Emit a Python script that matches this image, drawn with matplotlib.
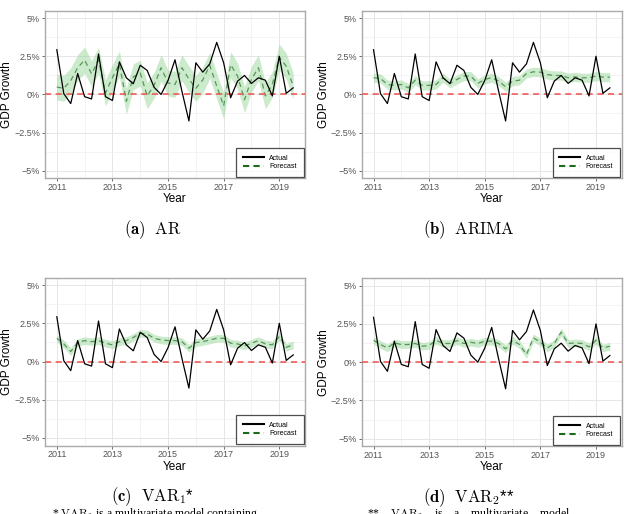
import matplotlib
matplotlib.use("Agg")
import matplotlib.pyplot as plt
from matplotlib.ticker import FuncFormatter, MultipleLocator
from matplotlib.lines import Line2D
import numpy as np

plt.rcParams['mathtext.fontset'] = 'cm'
plt.rcParams['font.family'] = ['Liberation Sans', 'DejaVu Sans']

# quarterly GDP growth, 2011Q1 .. 2019Q3
quarters = [2011 + 0.25 * i for i in range(35)]
actual = [2.93, 0.05, -0.60, 1.37, -0.15, -0.30, 2.65, -0.15, -0.40, 2.13,
          1.09, 0.70, 1.91, 1.57, 0.46, 0.00, 0.91, 2.27, 0.20, -1.74,
          2.07, 1.46, 2.00, 3.41, 2.07, -0.22, 0.87, 1.24, 0.72, 1.09,
          0.93, -0.10, 2.50, 0.07, 0.43]

fc_ar = [0.48, 0.40, 0.90, 1.75, 2.25, 1.35, 2.25, 0.10, 1.10, 2.00,
         -0.45, 1.15, 1.40, -0.10, 0.60, 1.75, 0.75, 0.65, 1.75, 1.00,
         0.40, 0.95, 1.90, 0.55, -0.75, 1.95, 1.20, -0.35, 1.00, 1.75,
         -0.10, 0.65, 2.45, 1.85, 0.55]
fc_arima = [1.09, 1.05, 0.65, 0.59, 0.65, 0.43, 0.93, 0.59, 0.59, 0.65,
            1.09, 0.72, 0.98, 1.20, 1.20, 0.72, 0.98, 1.10, 0.87, 0.50,
            0.87, 0.93, 1.37, 1.48, 1.46, 1.30, 1.24, 1.24, 1.09, 1.15,
            1.09, 1.09, 1.20, 1.13, 1.13]
fc_var1 = [1.52, 1.15, 0.65, 1.24, 1.37, 1.30, 1.37, 1.20, 1.09, 1.30,
           1.37, 1.57, 1.85, 1.80, 1.52, 1.41, 1.37, 1.37, 1.30, 0.87,
           1.24, 1.30, 1.41, 1.52, 1.52, 1.20, 1.15, 1.02, 1.20, 1.37,
           1.15, 1.09, 1.63, 0.93, 1.09]
fc_var2 = [1.43, 1.15, 0.93, 1.26, 1.15, 1.15, 1.22, 1.04, 1.09, 1.43,
           1.22, 1.22, 1.41, 1.22, 1.30, 1.22, 1.37, 1.37, 1.22, 0.87,
           1.43, 1.15, 0.50, 1.59, 1.30, 0.93, 1.22, 1.96, 1.22, 1.26,
           1.22, 1.00, 1.43, 0.93, 1.04]
# half width of the shaded interval for each model
band = [0.85, 0.30, 0.25, 0.25]

forecasts = [fc_ar, fc_arima, fc_var1, fc_var2]
captions = [r'$\mathbf{(a)}\ \ \mathrm{AR}$', r'$\mathbf{(b)}\ \ \mathrm{ARIMA}$',
            r'$\mathbf{(c)}\ \ \mathrm{VAR}_1$*', r'$\mathbf{(d)}\ \ \mathrm{VAR}_2$**']

W, H = 627, 514
fig = plt.figure(figsize=(W / 100, H / 100), dpi=100)

# panel boxes in pixels: left, top, right, bottom
boxes = [(45, 10.5, 305, 178.3), (361.7, 10.5, 621.7, 178.3),
         (45, 277.5, 305, 445.5), (361.7, 278, 621.7, 446.3)]
caption_x = [153, 469, 153, 469]

for k in range(4):
    l, t, r, b = boxes[k]
    ax = fig.add_axes([l / W, 1 - b / H, (r - l) / W, (b - t) / H])
    x = np.array(quarters)
    f = np.array(forecasts[k])
    ax.fill_between(x, f - band[k], f + band[k], color='#8fd18f', alpha=0.45, lw=0, zorder=2)
    ax.plot(x, f, color='#2e7d32', lw=0.9, ls=(0, (4, 3)), alpha=0.75, zorder=3)
    ax.plot(x, actual, color='black', lw=0.9, zorder=4)
    ax.axhline(0, color='#f05050', lw=1.1, ls=(0, (4, 3)), zorder=3)

    ax.set_xlim(2010.575, 2019.925)
    ax.set_ylim(-5.5, 5.5)
    ax.set_xticks([2011, 2013, 2015, 2017, 2019])
    ax.xaxis.set_minor_locator(MultipleLocator(1))
    ax.set_yticks([-5, -2.5, 0, 2.5, 5])
    ax.yaxis.set_minor_locator(MultipleLocator(1.25))
    ax.yaxis.set_major_formatter(FuncFormatter(
        lambda v, p: ('%g%%' % v).replace('-', '\u2212')))
    ax.grid(which='major', color='#e6e6e6', lw=0.7, zorder=0)
    ax.grid(which='minor', color='#f0f0f0', lw=0.5, zorder=0)
    ax.set_axisbelow(True)
    ax.tick_params(which='major', length=2, width=0.6, color='#555555',
                   labelsize=6.5, labelcolor='#555555', pad=1.5)
    ax.tick_params(which='minor', length=0)
    for s in ax.spines.values():
        s.set_color('#aaaaaa')
        s.set_linewidth(1.0)

    ax.set_xlabel('Year', fontsize=8.5)
    ax.xaxis.set_label_coords(0.5, -0.125)
    ax.xaxis.label.set_va('center')
    ax.set_ylabel('GDP Growth', fontsize=8.5)
    ax.yaxis.set_label_coords(-0.145, 0.5)
    ax.yaxis.label.set_va('center')

    handles = [Line2D([], [], color='black', lw=1.5),
               Line2D([], [], color='#1b6b1b', lw=1.5, ls=(0, (3, 2)))]
    leg = ax.legend(handles, ['Actual', 'Forecast'], loc='lower right',
                    fontsize=5, frameon=True, fancybox=False, handlelength=3,
                    borderpad=1.0, labelspacing=0.2, borderaxespad=0.2)
    leg.get_frame().set_edgecolor('#222222')
    leg.get_frame().set_linewidth(0.9)

    fig.text(caption_x[k] / W, 1 - (b + 51) / H, captions[k],
             ha='center', va='center', fontsize=12)

# footnotes, cut by the lower edge as in the source page
fig.text(52 / W, 1 - 514 / H, r'* $\mathrm{VAR}_1$ is a multivariate model containing',
         ha='left', va='center', fontsize=8.5, family='Liberation Serif')
fig.text(367 / W, 1 - 514 / H,
         r'**    $\mathrm{VAR}_2$    is    a    multivariate    model',
         ha='left', va='center', fontsize=8.5, family='Liberation Serif')

fig.savefig('out.png', dpi=100)
plt.close()
